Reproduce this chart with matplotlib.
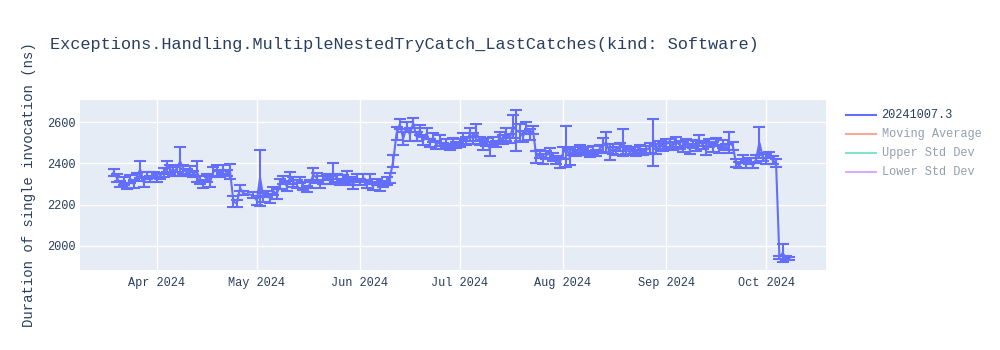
import matplotlib
matplotlib.use("Agg")
import matplotlib.pyplot as plt
import matplotlib.dates as mdates
from matplotlib.lines import Line2D
import pandas as pd

TITLE = "Exceptions.Handling.MultipleNestedTryCatch_LastCatches(kind: Software)"
Y_LABEL = "Duration of single invocation (ns)"
LEGEND_NAMES = ["20241007.3", "Moving Average", "Upper Std Dev", "Lower Std Dev"]
LEGEND_COLORS = ["#636efa", "#EF553B", "#00cc96", "#ab63fa"]

dates = [
    "03-19", "03-20", "03-21", "03-22", "03-23", "03-24", "03-25", "03-26", "03-27", "03-28",
    "03-29", "03-30", "03-31", "04-01", "04-02", "04-03", "04-04", "04-05", "04-06", "04-07",
    "04-08", "04-09", "04-10", "04-11", "04-12", "04-13", "04-14", "04-15", "04-16", "04-17",
    "04-18", "04-19", "04-20", "04-21", "04-22", "04-23", "04-24", "04-25", "04-26", "04-27",
    "04-30", "05-01", "05-02", "05-03", "05-04", "05-05", "05-06", "05-07", "05-08", "05-09",
    "05-10", "05-11", "05-12", "05-13", "05-14", "05-15", "05-16", "05-17", "05-18", "05-19",
    "05-20", "05-21", "05-22", "05-23", "05-24", "05-25", "05-26", "05-27", "05-28", "05-29",
    "05-30", "05-31", "06-01", "06-02", "06-03", "06-04", "06-05", "06-06", "06-07", "06-08",
    "06-09", "06-10", "06-11", "06-12", "06-13", "06-14", "06-15", "06-16", "06-17", "06-18",
    "06-19", "06-20", "06-21", "06-22", "06-23", "06-24", "06-25", "06-26", "06-27", "06-28",
    "06-29", "06-30", "07-01", "07-02", "07-03", "07-04", "07-05", "07-06", "07-07", "07-08",
    "07-09", "07-10", "07-11", "07-12", "07-13", "07-14", "07-15", "07-16", "07-17", "07-18",
    "07-19", "07-20", "07-21", "07-22", "07-23", "07-24", "07-25", "07-26", "07-27", "07-28",
    "07-29", "07-30", "07-31", "08-01", "08-02", "08-03", "08-04", "08-05", "08-06", "08-07",
    "08-08", "08-09", "08-10", "08-11", "08-12", "08-13", "08-14", "08-15", "08-16", "08-17",
    "08-18", "08-19", "08-20", "08-21", "08-22", "08-23", "08-24", "08-25", "08-26", "08-27",
    "08-28", "08-29", "08-30", "08-31", "09-01", "09-02", "09-03", "09-04", "09-05", "09-06",
    "09-07", "09-08", "09-09", "09-10", "09-11", "09-12", "09-13", "09-14", "09-15", "09-16",
    "09-17", "09-18", "09-19", "09-20", "09-21", "09-22", "09-23", "09-24", "09-25", "09-26",
    "09-27", "09-28", "09-29", "09-30", "10-01", "10-02", "10-03", "10-04", "10-05", "10-06",
    "10-07", "10-08",
]

values = [
    2355, 2330, 2300, 2315, 2290, 2325, 2300, 2335, 2370, 2310,
    2340, 2325, 2345, 2330, 2340, 2355, 2385, 2370, 2360, 2375,
    2410, 2370, 2355, 2365, 2350, 2360, 2320, 2300, 2330, 2310,
    2360, 2365, 2350, 2370, 2355, 2360, 2215, 2205, 2280, 2255,
    2245, 2220, 2330, 2235, 2250, 2230, 2265, 2250, 2300, 2320,
    2290, 2330, 2310, 2300, 2320, 2290, 2275, 2300, 2345, 2330,
    2300, 2320, 2335, 2320, 2350, 2330, 2310, 2325, 2340, 2315,
    2300, 2330, 2310, 2330, 2300, 2325, 2290, 2310, 2285, 2300,
    2315, 2330, 2410, 2545, 2590, 2520, 2575, 2540, 2595, 2530,
    2560, 2510, 2545, 2500, 2525, 2490, 2510, 2485, 2500, 2480,
    2505, 2490, 2500, 2520, 2510, 2540, 2520, 2550, 2510, 2490,
    2505, 2470, 2510, 2495, 2525, 2515, 2540, 2520, 2580, 2560,
    2550, 2530, 2570, 2540, 2560, 2430, 2445, 2420, 2440, 2450,
    2430, 2415, 2400, 2450, 2480, 2430, 2460, 2450, 2470, 2455,
    2460, 2445, 2465, 2450, 2470, 2490, 2500, 2455, 2470, 2460,
    2480, 2500, 2465, 2455, 2460, 2450, 2470, 2455, 2465, 2475,
    2500, 2470, 2490, 2480, 2495, 2500, 2485, 2505, 2490, 2480,
    2500, 2470, 2495, 2485, 2510, 2490, 2470, 2500, 2480, 2505,
    2470, 2495, 2480, 2500, 2485, 2400, 2390, 2420, 2395, 2410,
    2390, 2420, 2500, 2430, 2420, 2440, 2415, 2400, 1945, 1965,
    1940, 1938,
]

errors = [
    18, 20, 15, 20, 15, 20, 18, 20, 40, 25,
    18, 15, 15, 20, 15, 20, 25, 20, 20, 15,
    70, 20, 18, 20, 15, 50, 20, 18, 20, 25,
    20, 25, 18, 20, 15, 35, 25, 15, 15, 10,
    15, 20, 135, 20, 15, 20, 20, 25, 25, 20,
    25, 30, 25, 20, 15, 20, 15, 20, 30, 25,
    20, 20, 15, 20, 50, 20, 15, 20, 25, 20,
    25, 20, 15, 20, 20, 25, 20, 15, 20, 15,
    20, 25, 30, 30, 25, 30, 25, 30, 25, 20,
    25, 20, 25, 20, 20, 20, 25, 15, 20, 15,
    20, 15, 20, 25, 20, 30, 25, 40, 20, 25,
    20, 35, 20, 15, 25, 20, 30, 20, 55, 100,
    40, 25, 30, 25, 20, 30, 20, 25, 20, 25,
    20, 20, 25, 30, 100, 40, 20, 15, 20, 15,
    20, 15, 20, 15, 20, 35, 50, 40, 25, 20,
    20, 65, 20, 15, 20, 15, 20, 15, 20, 25,
    115, 25, 20, 20, 25, 20, 20, 25, 20, 25,
    20, 25, 20, 25, 25, 20, 30, 20, 25, 20,
    20, 20, 15, 50, 20, 20, 15, 20, 20, 15,
    15, 20, 75, 20, 25, 15, 20, 20, 8, 45,
    10, 8,
]

x = pd.to_datetime(["2024-" + d for d in dates])

FONT = "Liberation Mono"
TXT = "#2a3f5f"
BLUE = "#636efa"

fig = plt.figure(figsize=(10, 3.5), dpi=100)
ax = fig.add_axes([0.080, 1 - 270 / 350, 0.746, 170 / 350])
ax.set_facecolor("#E5ECF6")
for s in ax.spines.values():
    s.set_visible(False)

ax.errorbar(x, values, yerr=errors, color=BLUE, ecolor=BLUE, lw=1.5,
            elinewidth=1.5, capsize=4.5, capthick=1.5, zorder=3)

ax.set_xlim(pd.Timestamp("2024-03-08 22:00"), pd.Timestamp("2024-10-19"))
ax.set_ylim(1883, 2707)
ax.set_yticks([2000, 2200, 2400, 2600])
ax.xaxis.set_major_locator(mdates.MonthLocator())
ax.xaxis.set_major_formatter(mdates.DateFormatter("%b %Y"))
ax.grid(True, color="white", lw=1, zorder=0)
ax.set_axisbelow(True)
ax.tick_params(length=0, labelsize=8.6, labelcolor=TXT)
ax.tick_params(axis="y", pad=3)
ax.tick_params(axis="x", pad=5)
for lab in ax.get_xticklabels() + ax.get_yticklabels():
    lab.set_fontfamily(FONT)

fig.text(0.029, 0.5 * ((1 - 270 / 350) + (1 - 100 / 350)), Y_LABEL, rotation=90,
         ha="center", va="center", fontsize=10.1, color=TXT, family=FONT)
fig.text(0.050, 1 - 45 / 350, TITLE, ha="left", va="center",
         fontsize=12.2, color=TXT, family=FONT)

# legend
for i, (name, col) in enumerate(zip(LEGEND_NAMES, LEGEND_COLORS)):
    yy = 1 - (114.5 + i * 19.3) / 350
    alpha = 1.0 if i == 0 else 0.5
    fig.add_artist(Line2D([0.846, 0.876], [yy, yy], transform=fig.transFigure,
                          color=col, lw=1.5, alpha=alpha))
    fig.text(0.8815, yy, name, ha="left", va="center", fontsize=8.6,
             color=TXT, alpha=alpha, family=FONT)

fig.savefig("out.png", dpi=100, facecolor="white")
